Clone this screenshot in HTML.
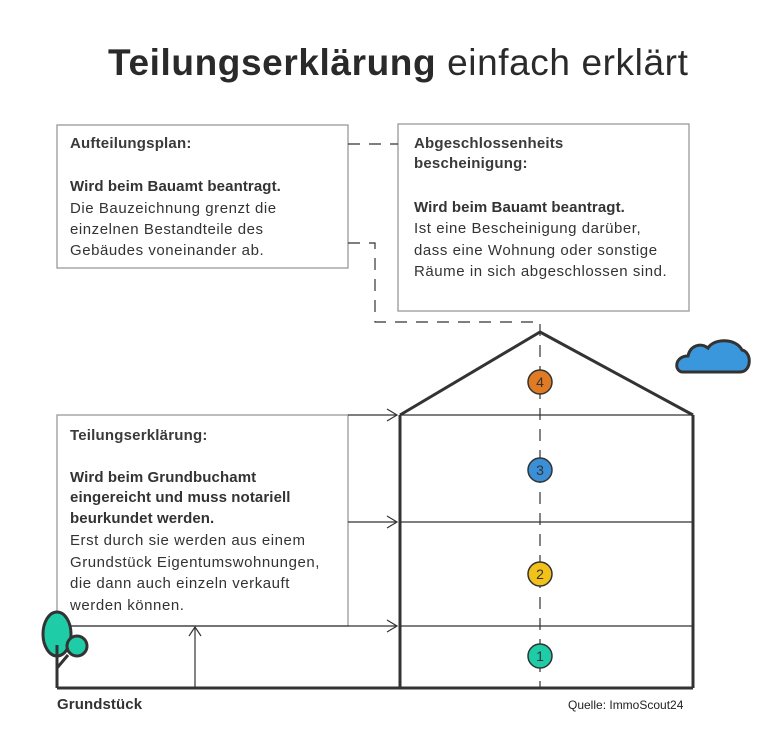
<!DOCTYPE html>
<html><head><meta charset="utf-8"><style>
body{margin:0;background:#fff;}
svg{display:block;font-family:"Liberation Sans",sans-serif;}
.t{font-size:15px;fill:#333;letter-spacing:0.55px;}
.b{font-weight:bold;letter-spacing:0.1px;}
.h{font-weight:bold;fill:#3a3a3a;letter-spacing:0.2px;}
</style></head><body>
<svg width="775" height="747" viewBox="0 0 775 747">
<text x="108" y="75" font-size="37" fill="#2a2a2a" letter-spacing="0.6"><tspan font-weight="bold">Teilungserklärung</tspan> einfach erklärt</text>
<g fill="none" stroke="#999" stroke-width="1.3">
<rect x="57" y="125" width="291" height="143"/>
<rect x="398" y="124" width="291" height="187"/>
<rect x="57" y="415" width="291" height="211"/>
</g>
<g fill="none" stroke="#333" stroke-width="1.2" stroke-dasharray="12,9">
<path d="M348 144H398"/>
<path d="M348 243H375V322H540V688"/>
</g>
<g class="t">
<text x="70" y="148" class="h">Aufteilungsplan:</text>
<text x="70" y="191" class="b">Wird beim Bauamt beantragt.</text>
<text x="70" y="213">Die Bauzeichnung grenzt die</text>
<text x="70" y="234">einzelnen Bestandteile des</text>
<text x="70" y="255"> Gebäudes voneinander ab.</text>
<text x="414" y="148" class="h">Abgeschlossenheits</text>
<text x="414" y="168" class="h">bescheinigung:</text>
<text x="414" y="212" class="b">Wird beim Bauamt beantragt.</text>
<text x="414" y="233">Ist eine Bescheinigung darüber,</text>
<text x="414" y="255">dass eine Wohnung oder sonstige</text>
<text x="414" y="276">Räume in sich abgeschlossen sind.</text>
<text x="70" y="440" class="h">Teilungserklärung:</text>
<text x="70" y="482" class="b">Wird beim Grundbuchamt</text>
<text x="70" y="502" class="b">eingereicht und muss notariell</text>
<text x="70" y="523" class="b">beurkundet werden.</text>
<text x="70" y="545">Erst durch sie werden aus einem</text>
<text x="70" y="567">Grundstück Eigentumswohnungen,</text>
<text x="70" y="588">die dann auch einzeln verkauft</text>
<text x="70" y="610">werden können.</text>
<text x="57" y="709" font-size="15" class="b">Grundstück</text>
<text x="568" y="709" font-size="12" fill="#222" letter-spacing="0">Quelle: ImmoScout24</text>
</g>
<g fill="none" stroke="#333" stroke-width="3" stroke-linejoin="round">
<path d="M400 415L540 332L693 415"/>
<path d="M400 415V688M693 415V688M57 688H693"/>
</g>
<g fill="none" stroke="#333" stroke-width="1.2">
<path d="M400 415H693M400 522H693M400 626H693"/>
<path d="M348 415H397M387 409L397 415L387 421"/>
<path d="M348 522H397M387 516L397 522L387 528"/>
<path d="M57 626H397M387 620L397 626L387 632"/>
<path d="M195 688V627M189 636L195 627L201 636"/>
</g>
<g stroke="#333" stroke-width="1.5" font-size="14" text-anchor="middle">
<circle cx="540" cy="382" r="12" fill="#e07b24"/>
<circle cx="540" cy="470" r="12" fill="#3a8fd6"/>
<circle cx="540" cy="574" r="12" fill="#f2c21b"/>
<circle cx="540" cy="656" r="12" fill="#1fcca8"/>
<text x="540" y="387" stroke="none" fill="#333">4</text>
<text x="540" y="475" stroke="none" fill="#333">3</text>
<text x="540" y="579" stroke="none" fill="#333">2</text>
<text x="540" y="661" stroke="none" fill="#333">1</text>
</g>
<g stroke="#333" stroke-width="3">
<ellipse cx="57" cy="634" rx="14" ry="22" fill="#1fcca8"/>
<circle cx="77" cy="646" r="10" fill="#1fcca8"/>
<path d="M57 688V645M57 668L68 655" fill="none"/>
<path d="M683 372C674 372 674 356 688 356C690 346 700 342 708 348C714 338 736 338 742 350C752 352 752 372 740 372Z" fill="#3a97dc"/>
</g>
</svg>
</body></html>
